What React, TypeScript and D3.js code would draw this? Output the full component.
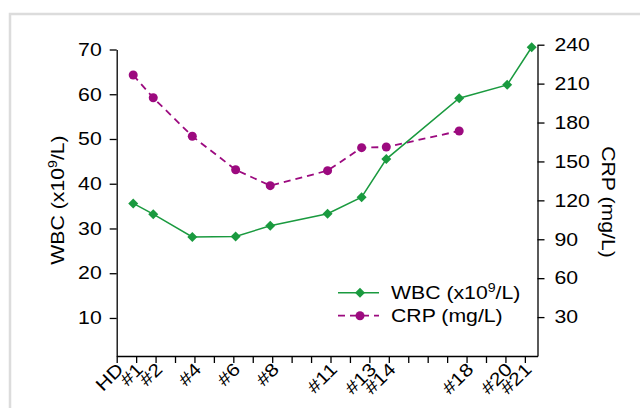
import React, { useRef, useEffect } from "react";
import * as d3 from "d3";

// x axis: HD + days #1..#21, only some labelled
const tickLabels = ["HD", "#1", "#2", "", "#4", "", "#6", "", "#8", "", "", "#11", "", "#13", "#14", "", "", "", "#18", "", "#20", "#21"];

// sample positions (in tick units) and values
const wbcDays = [0.85, 1.88, 3.89, 6.12, 7.9, 10.85, 12.6, 13.87, 17.62, 20.09, 21.35];
const wbcValues = [35.6, 33.2, 28.1, 28.2, 30.6, 33.3, 37.0, 45.5, 59.1, 62.1, 70.5];
const crpDays = [0.85, 1.88, 3.89, 6.12, 7.9, 10.85, 12.6, 13.87, 17.62];
const crpValues = [216.6, 199.1, 169.4, 143.6, 131.3, 142.9, 160.6, 161.1, 173.5];

const wbcTicks = [10, 20, 30, 40, 50, 60, 70];
const crpTicks = [30, 60, 90, 120, 150, 180, 210, 240];

const GREEN = "#1a9a3f";
const PURPLE = "#9c0a7f";
const FONT = "'Liberation Sans', Arial, sans-serif";
const FS = 18;
const SX = 1.18; // the figure's font is wider than Arial

export default function App() {
  const svgRef = useRef<SVGSVGElement>(null);

  useEffect(() => {
    const svg = d3.select(svgRef.current);
    svg.selectAll("*").remove();

    const x = d3.scaleLinear().domain([0, 21.65]).range([116.7, 537.5]);
    const yL = d3.scaleLinear().domain([1.5, 70]).range([356, 49.5]);
    const yR = d3.scaleLinear().domain([0, 240]).range([356, 44.7]);

    // light grey panel border
    svg.append("rect")
      .attr("x", 10).attr("y", 14).attr("width", 700).attr("height", 500)
      .attr("fill", "none").attr("stroke", "#dcdcdc").attr("stroke-width", 2.5);

    const styleAxis = (g: any) => {
      g.select(".domain").attr("stroke", "#000").attr("stroke-width", 1.3);
      g.selectAll(".tick line").attr("stroke", "#000").attr("stroke-width", 1.3);
      g.selectAll("text").attr("font-family", FONT).attr("font-size", FS).attr("fill", "#000");
    };

    // bottom axis
    const gx = svg.append("g").attr("transform", "translate(0,356)")
      .call(d3.axisBottom(x).tickValues(d3.range(tickLabels.length))
        .tickFormat((d: any) => tickLabels[d]).tickSize(7).tickSizeOuter(0));
    styleAxis(gx);
    gx.selectAll(".tick text")
      .attr("text-anchor", "end").attr("y", 0).attr("dy", "0.35em")
      .attr("transform", `translate(3,10) rotate(-45) scale(${SX},1)`);

    // left axis (WBC)
    const gl = svg.append("g").attr("transform", "translate(116.7,0)")
      .call(d3.axisLeft(yL).tickValues(wbcTicks).tickSize(7).tickSizeOuter(0));
    styleAxis(gl);
    gl.selectAll(".tick text").attr("x", -15 / SX).attr("transform", `scale(${SX},1)`);

    // right axis (CRP)
    const gr = svg.append("g").attr("transform", "translate(537.5,0)")
      .call(d3.axisRight(yR).tickValues(crpTicks).tickSize(7).tickSizeOuter(0));
    styleAxis(gr);
    gr.selectAll(".tick text").attr("x", 17 / SX).attr("transform", `scale(${SX},1)`);

    // axis titles
    const lt = svg.append("text")
      .attr("transform", `translate(64,200) rotate(-90) scale(${SX},1)`)
      .attr("text-anchor", "middle").attr("font-family", FONT).attr("font-size", FS);
    lt.append("tspan").text("WBC (x10");
    lt.append("tspan").attr("font-size", 12).attr("dy", -7).text("9");
    lt.append("tspan").attr("dy", 7).text("/L)");

    svg.append("text")
      .attr("transform", `translate(602,202) rotate(90) scale(${SX},1)`)
      .attr("text-anchor", "middle").attr("font-family", FONT).attr("font-size", FS)
      .text("CRP (mg/L)");

    // CRP series
    const crpLine = d3.line<number>().x((d, i) => x(crpDays[i])).y((d) => yR(d));
    svg.append("path").attr("d", crpLine(crpValues))
      .attr("fill", "none").attr("stroke", PURPLE).attr("stroke-width", 1.8)
      .attr("stroke-dasharray", "7,5");
    svg.append("g").selectAll("circle").data(crpValues).join("circle")
      .attr("cx", (d, i) => x(crpDays[i])).attr("cy", (d) => yR(d))
      .attr("r", 4.5).attr("fill", PURPLE);

    // WBC series
    const wbcLine = d3.line<number>().x((d, i) => x(wbcDays[i])).y((d) => yL(d));
    svg.append("path").attr("d", wbcLine(wbcValues))
      .attr("fill", "none").attr("stroke", GREEN).attr("stroke-width", 1.5);
    const diamond = d3.symbol().type(d3.symbolSquare).size(50);
    svg.append("g").selectAll("path").data(wbcValues).join("path")
      .attr("d", diamond()!)
      .attr("transform", (d, i) => `translate(${x(wbcDays[i])},${yL(d)}) rotate(45)`)
      .attr("fill", GREEN);

    // legend
    const lg = svg.append("g");
    const l1 = lg.append("g").attr("transform", "translate(338,292.7)");
    l1.append("line").attr("x1", 0).attr("x2", 41).attr("stroke", GREEN).attr("stroke-width", 1.5);
    l1.append("path").attr("d", diamond()!).attr("transform", "translate(22,0) rotate(45)").attr("fill", GREEN);
    const t1 = l1.append("text").attr("transform", `translate(53,6) scale(${SX},1)`)
      .attr("font-family", FONT).attr("font-size", FS);
    t1.append("tspan").text("WBC (x10");
    t1.append("tspan").attr("font-size", 12).attr("dy", -7).text("9");
    t1.append("tspan").attr("dy", 7).text("/L)");

    const l2 = lg.append("g").attr("transform", "translate(338,315.7)");
    l2.append("line").attr("x1", 0).attr("x2", 41).attr("stroke", PURPLE).attr("stroke-width", 1.8)
      .attr("stroke-dasharray", "7,5");
    l2.append("circle").attr("cx", 22).attr("r", 4.5).attr("fill", PURPLE);
    l2.append("text").attr("transform", `translate(53,6) scale(${SX},1)`)
      .attr("font-family", FONT).attr("font-size", FS).text("CRP (mg/L)");
  }, []);

  return (
    <svg
      ref={svgRef}
      width={640}
      height={408}
      style={{ position: "absolute", left: 0, top: 0, display: "block", background: "#fff" }}
    />
  );
}
